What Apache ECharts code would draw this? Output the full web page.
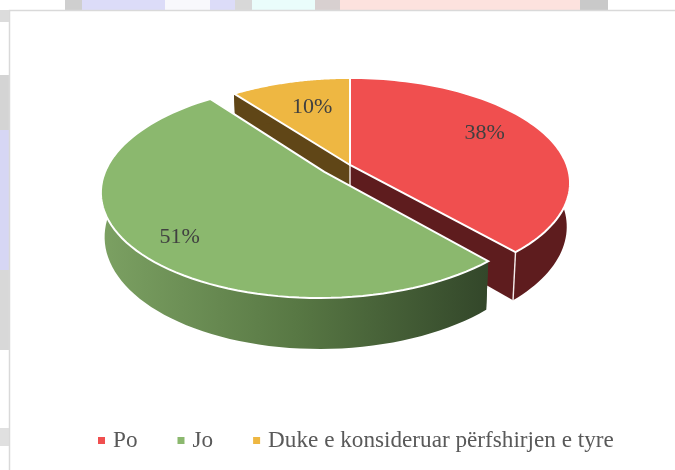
<!DOCTYPE html>
<html>
<head>
<meta charset="utf-8">
<style>html,body{margin:0;padding:0;background:#fff}#c{width:675px;height:470px}</style>
<script src="https://cdn.jsdelivr.net/npm/echarts@6/dist/echarts.min.js"></script>
</head>
<body>
<div id="c"></div>
<script>
var categories = ['Po', 'Jo', 'Duke e konsideruar përfshirjen e tyre'];
var values = [38.4, 51.2, 10.4];
var valueLabels = ['38%', '51%', '10%'];

var topColors = ['#f04f4f', '#8bb86e', '#eeb742'];
var sideColors = ['#5e1c1e', null, '#604617'];
var explodeU = [0, -0.117, 0];
var explodeV = [0, 0.066, 0];
var stackZ = [2, 3, 1];
var labelFraction = [0.72, 0.8, 0.7];
var labelShift = [[-5, -7], [6, 7], [6, 3]];
var geo = { cx: 350, cy: 165, A: 216.8, B: 102, p: 0.171, depth: 48, depthSlope: 0.0625, depthRef: 250, shrink: 0.985 };

var total = values.reduce(function (a, b) { return a + b; }, 0);
function startAngle(i) {
  var s = 0;
  for (var k = 0; k < i; k++) s += values[k];
  return s / total * Math.PI * 2;
}
function midDir(i, value) {
  var m = startAngle(i) + value / total * Math.PI;
  return [Math.sin(m), -Math.cos(m)];
}
function project(u, v) {
  var w = 1 - geo.p * v;
  return [geo.cx + geo.A * u / w, geo.cy + geo.B * v / w];
}
function lower(pt) {
  return [
    geo.cx + (pt[0] - geo.cx) * geo.shrink,
    pt[1] + geo.depth + geo.depthSlope * (pt[1] - geo.depthRef)
  ];
}
function renderSlice(i) {
  return function (params, api) {
    var value = api.value(0);
    var a0 = startAngle(i);
    var a1 = a0 + value / total * Math.PI * 2;
    var d = midDir(i, value);
    var ox = explodeU[i], oy = explodeV[i];
    var apex = project(ox, oy);
    var arc = [];
    var steps = 80;
    for (var s = 0; s <= steps; s++) {
      var t = a0 + (a1 - a0) * s / steps;
      arc.push(project(ox + Math.sin(t), oy - Math.cos(t)));
    }
    var first = arc[0], last = arc[arc.length - 1];
    var rimFill = sideColors[i] || {
      type: 'linear', global: true, x: 105, y: 0, x2: 487, y2: 0,
      colorStops: [
        { offset: 0, color: '#7ba062' },
        { offset: 0.5, color: '#587844' },
        { offset: 1, color: '#33472a' }
      ]
    };
    var rim = arc.concat(arc.map(lower).reverse());
    var kids = [
      { type: 'polygon', shape: { points: [apex, first, lower(first), lower(apex)] }, style: { fill: rimFill } },
      { type: 'polygon', shape: { points: [apex, last, lower(last), lower(apex)] }, style: { fill: rimFill } },
      { type: 'polygon', shape: { points: rim }, style: { fill: rimFill } }
    ];
    if (i === 0) {
      [apex, last].forEach(function (p) {
        var q = lower(p);
        kids.push({ type: 'line', shape: { x1: p[0], y1: p[1], x2: q[0], y2: q[1] }, style: { stroke: '#f4ecec', lineWidth: 1.4 } });
      });
    }
    kids.push({
      type: 'polygon',
      shape: { points: [apex].concat(arc) },
      style: { fill: topColors[i], stroke: '#ffffff', lineWidth: 2, lineJoin: 'miter' }
    });
    var f = labelFraction[i];
    var lp = project(ox + d[0] * f, oy + d[1] * f);
    kids.push({
      type: 'text',
      style: {
        x: lp[0] + labelShift[i][0], y: lp[1] + labelShift[i][1],
        text: valueLabels[i], fill: '#404040',
        font: '22px "Liberation Serif"', align: 'center', verticalAlign: 'middle'
      }
    });
    return { type: 'group', children: kids };
  };
}

var backdrop = [
  [65, 0, 17, 10, '#cfcfcf'], [82, 0, 83, 10, '#dcdcf8'], [165, 0, 45, 10, '#f8f8fc'],
  [210, 0, 25, 10, '#dcdcf8'], [235, 0, 17, 10, '#d8d8d8'], [252, 0, 63, 10, '#eafdfb'],
  [315, 0, 25, 10, '#d8d0d0'], [340, 0, 240, 10, '#fde2de'], [580, 0, 28, 10, '#c9c9c9'],
  [0, 75, 10, 55, '#d4d4d4'], [0, 130, 10, 140, '#d6d6f4'], [0, 270, 10, 80, '#d8d8d8'],
  [0, 10, 9, 12, '#dcdcdc'], [0, 428, 9, 18, '#e0e0e0']
];
var graphicEls = backdrop.map(function (r) {
  return { type: 'rect', silent: true, z: -10, shape: { x: r[0], y: r[1], width: r[2], height: r[3] }, style: { fill: r[4] } };
});
graphicEls.push({
  type: 'rect', silent: true, z: -9,
  shape: { x: 9.5, y: 10.5, width: 700, height: 500 },
  style: { fill: '#ffffff', stroke: '#d9d9d9', lineWidth: 1.5 }
});

var chart = echarts.init(document.getElementById('c'), null, { renderer: 'canvas' });
chart.setOption({
  animation: false,
  backgroundColor: '#ffffff',
  graphic: { elements: graphicEls },
  legend: {
    data: categories,
    left: 93, top: 424,
    icon: 'rect', itemWidth: 7, itemHeight: 7, itemGap: 40,
    selectedMode: false,
    textStyle: { fontFamily: 'Liberation Serif', fontSize: 23.2, color: '#595959', padding: [0, 0, 0, 3] }
  },
  series: categories.map(function (name, i) {
    return {
      type: 'custom',
      name: name,
      coordinateSystem: 'none',
      z: stackZ[i] + 2,
      silent: true,
      itemStyle: { color: topColors[i] },
      renderItem: renderSlice(i),
      data: [[values[i]]]
    };
  })
});
</script>
</body>
</html>
